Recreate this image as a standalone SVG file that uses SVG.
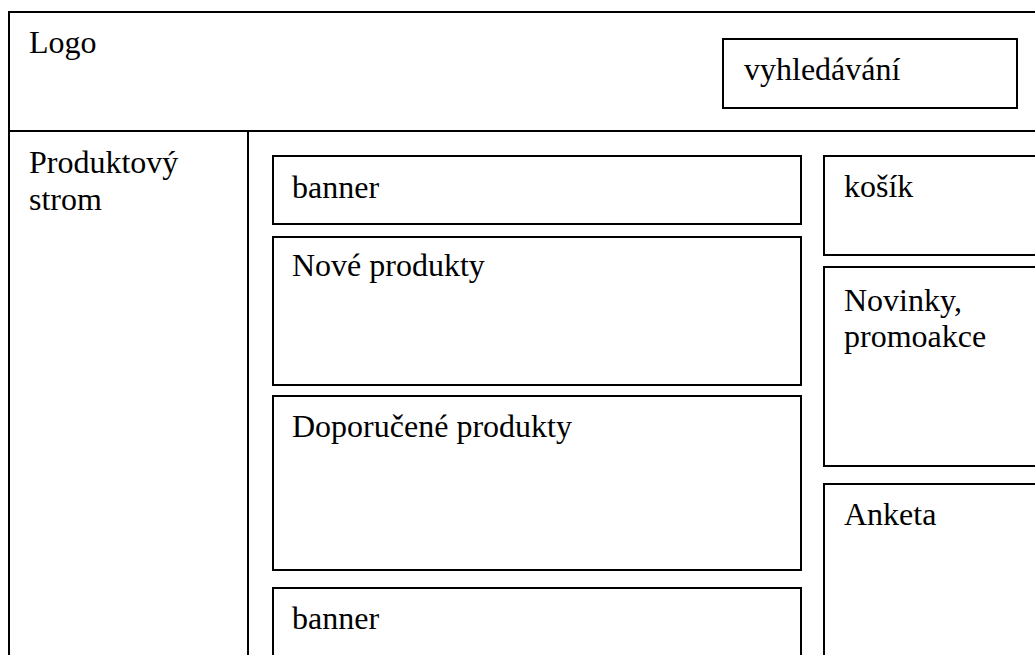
<svg xmlns="http://www.w3.org/2000/svg" width="1035" height="655" viewBox="0 0 1035 655">
<style>
.b{fill:none;stroke:#000;stroke-width:2}
text{font-family:'Liberation Serif','Times New Roman','DejaVu Serif',serif;font-size:32px;fill:#000}
</style>
<rect width="1035" height="655" fill="#fff"/>
<g id="frame">
<rect class="b" x="9" y="12" width="1040" height="660"/>
<line class="b" x1="9" y1="131" x2="1040" y2="131"/>
<line class="b" x1="248" y1="131" x2="248" y2="660"/>
<text x="29" y="53">Logo</text>
<text x="29" y="173">Produktový</text>
<text x="29" y="210">strom</text>
</g>
<g id="search">
<rect class="b" x="723" y="39" width="294" height="69"/>
<text x="744" y="80">vyhledávání</text>
</g>
<g id="banner1">
<rect class="b" x="273" y="156" width="528" height="68"/>
<text x="292" y="198">banner</text>
</g>
<g id="nove">
<rect class="b" x="273" y="237" width="528" height="148"/>
<text x="292" y="276">Nové produkty</text>
</g>
<g id="doporucene">
<rect class="b" x="273" y="396" width="528" height="174"/>
<text x="292" y="437">Doporučené produkty</text>
</g>
<g id="banner2">
<rect class="b" x="273" y="588" width="528" height="80"/>
<text x="292" y="629">banner</text>
</g>
<g id="kosik">
<rect class="b" x="824" y="156" width="230" height="99"/>
<text x="844" y="197">košík</text>
</g>
<g id="novinky">
<rect class="b" x="824" y="267" width="230" height="199"/>
<text x="844" y="311">Novinky,</text>
<text x="844" y="347">promoakce</text>
</g>
<g id="anketa">
<rect class="b" x="824" y="484" width="230" height="190"/>
<text x="844" y="525">Anketa</text>
</g>
<g id="connectors"/>
</svg>
